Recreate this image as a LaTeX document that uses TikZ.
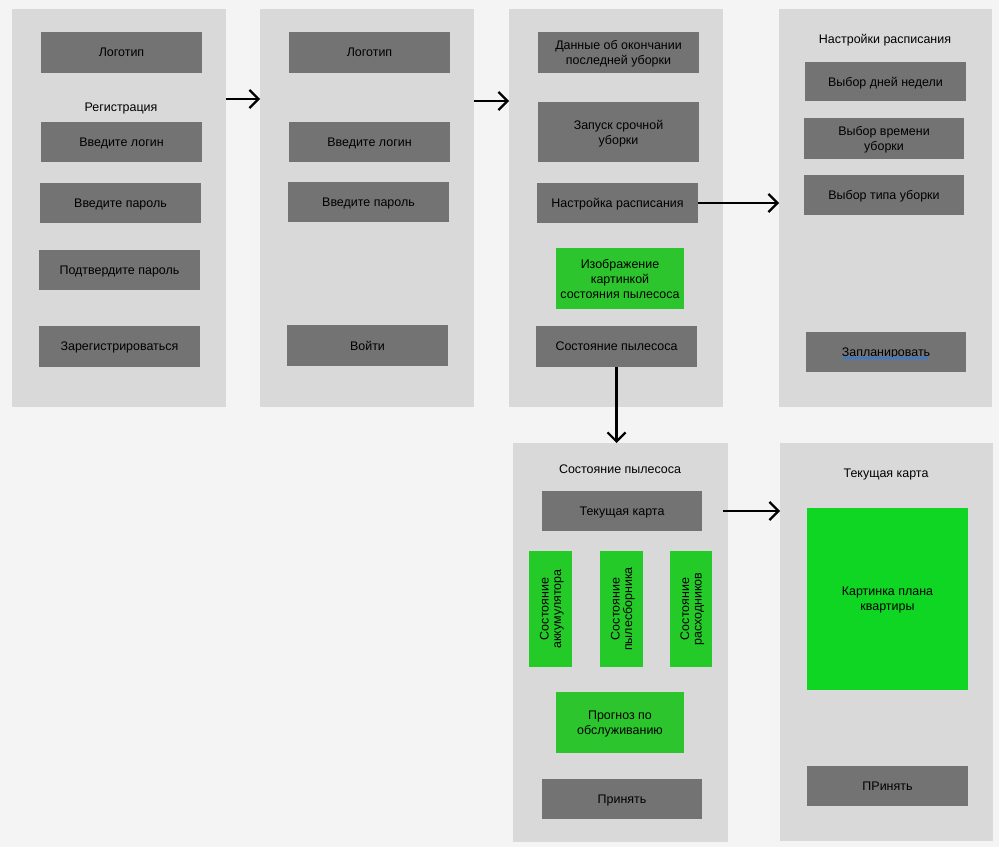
\documentclass[tikz,border=0pt]{standalone}
\usepackage{fontspec}
\setmainfont{Liberation Sans}
\usetikzlibrary{arrows.meta,calc}
\definecolor{bgc}{HTML}{F4F4F4}
\definecolor{panelc}{HTML}{D9D9D9}
\definecolor{darkc}{HTML}{747373}
\definecolor{greena}{HTML}{2DC52D}
\definecolor{greenb}{HTML}{24CA28}
\definecolor{greenc}{HTML}{0ED622}
\definecolor{ulc}{HTML}{2A7DE1}
\begin{document}
\begin{tikzpicture}[x=1bp,y=-1bp,
  every node/.style={font=\fontsize{12.5}{15}\selectfont, text=black, inner sep=0pt, outer sep=0pt, text depth=0pt},
  panel/.style={fill=panelc, minimum width=214bp, minimum height=398bp},
  dbox/.style={fill=darkc, minimum width=161bp, minimum height=40bp, align=center},
  gbox/.style={fill=greena, minimum width=128bp, minimum height=61bp, align=center},
  vbox/.style={fill=greenb, minimum width=43bp, minimum height=116bp},
  vtext/.style={rotate=90, align=center, font=\fontsize{12.5}{12.5}\selectfont},
  arr/.style={draw=black, line width=2.2bp, -{Straight Barb[length=9bp,width=18bp,line width=2.2bp]}}
]
\fill[bgc] (0,0) rectangle (999,847);
\useasboundingbox (0,0) rectangle (999,847);

% panels
\node[panel] (p1) at (119,208) {};
\node[panel] (p2) at (367,208) {};
\node[panel] (p3) at (616,208) {};
\node[panel, minimum width=213bp] (p4) at (885.5,208) {};
\node[panel, minimum width=215bp, minimum height=399bp] (p5) at (620.5,642.5) {};
\node[panel, minimum width=213bp] (p6) at (886.5,642) {};

% panel 1
\node[dbox, minimum height=41bp] (logo1) at (121.5,52.5) {Логотип};
\node (reg) at (121,107) {Регистрация};
\node[dbox] (login1) at (121.5,142) {Введите логин};
\node[dbox] (pass1) at (120.5,203) {Введите пароль};
\node[dbox] (conf1) at (119.5,270) {Подтвердите пароль};
\node[dbox, minimum height=41bp] (regbtn) at (119.5,346.5) {Зарегистрироваться};

% panel 2
\node[dbox, minimum height=41bp] (logo2) at (369.5,52.5) {Логотип};
\node[dbox] (login2) at (369.5,142) {Введите логин};
\node[dbox] (pass2) at (368.5,202) {Введите пароль};
\node[dbox, minimum height=41bp] (enter) at (367.5,345.5) {Войти};

% panel 3
\node[dbox, minimum height=41bp] (data) at (618.5,52.5) {Данные об окончании\\последней уборки};
\node[dbox, minimum height=60bp] (launch) at (618.5,132) {Запуск срочной\\уборки};
\node[dbox] (sched) at (617.5,203) {Настройка расписания};
\node[gbox] (img) at (620,278.5) {Изображение\\картинкой\\состояния пылесоса};
\node[dbox, minimum height=41bp] (state) at (616.5,346.5) {Состояние пылесоса};

% panel 4
\node (t4) at (885,39) {Настройки расписания};
\node[dbox, minimum height=39bp] (days) at (885.5,81.5) {Выбор дней недели};
\node[dbox, minimum width=160bp, minimum height=41bp] (time) at (884,138.5) {Выбор времени\\уборки};
\node[dbox, minimum width=160bp] (type) at (884,195) {Выбор типа уборки};
\node[dbox, minimum width=160bp] (plan) at (886,352) {Запланировать};
\draw[ulc, line width=1.5bp] ($(plan.center)+(-43,6)$) -- ($(plan.center)+(42,6)$);

% panel 5
\node (t5) at (620,469) {Состояние пылесоса};
\node[dbox, minimum width=160bp] (map) at (622,511) {Текущая карта};
\node[vbox] (v1) at (550.5,609) {};
\node[vtext] at (v1) {Состояние\\аккумулятора};
\node[vbox] (v2) at (621.5,609) {};
\node[vtext] at (v2) {Состояние\\пылесборника};
\node[vbox, minimum width=42bp] (v3) at (691,609) {};
\node[vtext] at (v3) {Состояние\\расходников};
\node[gbox] (prog) at (620,722.5) {Прогноз по\\обслуживанию};
\node[dbox, minimum width=160bp] (acc) at (622,799) {Принять};

% panel 6
\node (t6) at (886,473) {Текущая карта};
\node[fill=greenc, minimum width=161bp, minimum height=182bp, align=center] (pic) at (887.5,599) {Картинка плана\\квартиры};
\node[dbox] (acc2) at (887.5,786) {ПРинять};

% arrows
\draw[arr] (p1.east |- 0,99) -- (p2.west |- 0,99);
\draw[arr] (p2.east |- 0,101) -- (p3.west |- 0,101);
\draw[arr] (sched.east) -- (p4.west |- sched.east);
\draw[arr] (state.south) -- (p5.north -| state.south);
\draw[arr] ($(p5.east |- map)+(-5,0)$) -- (p6.west |- map);
\end{tikzpicture}
\end{document}
